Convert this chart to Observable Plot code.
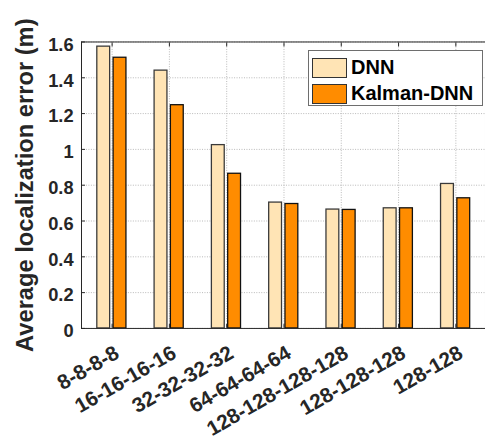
<!DOCTYPE html>
<html>
<head>
<meta charset="utf-8">
<script src="https://cdn.jsdelivr.net/npm/d3@7"></script>
<script src="https://cdn.jsdelivr.net/npm/@observablehq/plot@0.6"></script>
<style>
  html, body { margin: 0; padding: 0; background: #fff; overflow: hidden; }
  #wrap { position: relative; width: 485px; height: 448px; overflow: hidden; }
  #legend {
    position: absolute; left: 308px; top: 50px; width: 173px; height: 54px;
    border: 1.5px solid #6e6e6e; background: #fff;
    font-family: "Liberation Sans", Arial, Helvetica, sans-serif; font-weight: bold; font-size: 20px; color: #000;
  }
  .item { position: absolute; left: 3px; display: flex; align-items: center; }
  .sw { width: 33px; height: 18px; border: 1px solid #333; margin-right: 4px; }
</style>
</head>
<body>
<div id="wrap"></div>
<script>
const groups = ["8-8-8-8", "16-16-16-16", "32-32-32-32", "64-64-64-64", "128-128-128-128", "128-128-128", "128-128"];
const series = ["DNN", "Kalman-DNN"];
const dnn    = [1.574, 1.440, 1.024, 0.703, 0.664, 0.671, 0.807];
const kalman = [1.512, 1.247, 0.864, 0.695, 0.662, 0.671, 0.727];
const yTicks = [0, 0.2, 0.4, 0.6, 0.8, 1, 1.2, 1.4, 1.6];
const colors = ["#FFE4B5", "#FF8C00"];
const yLabel = "Average localization error (m)";

const dnnData = groups.map((g, i) => ({group: g, value: dnn[i], series: series[0]}));
const kalData = groups.map((g, i) => ({group: g, value: kalman[i], series: series[1]}));

const font = "'Liberation Sans', Arial, Helvetica, sans-serif";
const grid = {stroke: "#b8b8b8", strokeOpacity: 1, strokeDasharray: "1,1.5", strokeWidth: 1};

const chart = Plot.plot({
  width: 491,
  height: 448,
  marginLeft: 82,
  marginRight: 0,
  marginTop: 42,
  marginBottom: 116,
  style: {fontFamily: font, fontWeight: "bold", background: "#fff", color: "#262626"},
  x: {domain: groups, padding: 0, label: null},
  y: {domain: [0, 1.6], label: null},
  color: {domain: series, range: colors},
  marks: [
    Plot.gridY(yTicks, grid),
    Plot.gridX(grid),
    Plot.barY(dnnData, {x: "group", y: "value", fill: "series", stroke: "#3a3a3a", strokeWidth: 1.3, insetLeft: 14, insetRight: 31}),
    Plot.barY(kalData, {x: "group", y: "value", fill: "series", stroke: "#111", strokeWidth: 1.3, insetLeft: 30.5, insetRight: 14.5}),
    Plot.frame({stroke: "#262626", strokeWidth: 1}),
    Plot.axisY(yTicks, {tickSize: -4, text: null, label: null, stroke: "#262626"}),
    Plot.axisY(yTicks, {tickSize: 0, tickPadding: 8, fontSize: 18.5, fontWeight: "bold", fill: "#262626", dy: 3, tickFormat: d => String(d), label: null}),
    Plot.axisX({anchor: "top", tickSize: -4, text: null, label: null, stroke: "#262626"}),
    Plot.axisX({anchor: "bottom", tickSize: -4, text: null, label: null, stroke: "#262626"}),
    Plot.text(groups, {x: d => d, frameAnchor: "bottom", dx: 8.5, dy: 29, rotate: -30, textAnchor: "end", lineAnchor: "bottom", fontSize: 21, fontWeight: "bold", fill: "#262626"}),
    Plot.text([yLabel], {frameAnchor: "left", dx: -49, rotate: -90, textAnchor: "middle", lineAnchor: "bottom", fontSize: 24, fontWeight: "bold", fill: "#262626", text: d => d})
  ]
});

const wrap = document.getElementById("wrap");
wrap.appendChild(chart);

const legend = document.createElement("div");
legend.id = "legend";
series.forEach((s, i) => {
  const item = document.createElement("div");
  item.className = "item";
  item.style.top = (5 + i * 26) + "px";
  const sw = document.createElement("div");
  sw.className = "sw";
  sw.style.background = colors[i];
  const t = document.createElement("span");
  t.textContent = s;
  item.appendChild(sw);
  item.appendChild(t);
  legend.appendChild(item);
});
wrap.appendChild(legend);
</script>
</body>
</html>
